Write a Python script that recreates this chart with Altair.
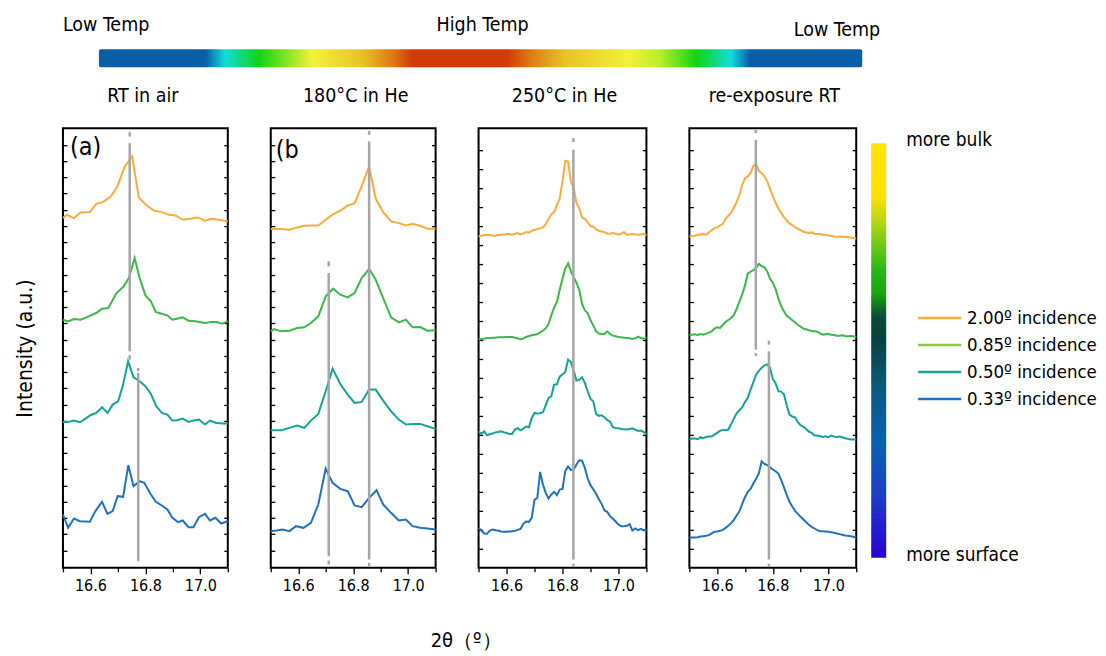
import altair as alt
import pandas as pd

FONT = "DejaVu Sans Condensed, DejaVu Sans"

SERIES = ["2.00º incidence", "0.85º incidence", "0.50º incidence", "0.33º incidence"]
LINE_COLORS = ["#fdab3d", "#3db64a", "#13a397", "#2071be"]
LEGEND_COLORS = ["#fdab3d", "#8cc63f", "#13a397", "#2071be"]
STAGES = ["RT in air", "180°C in He", "250°C in He", "re-exposure RT"]
PANEL_LABELS = ["(a)", "(b"]
XTICKS = [16.5, 16.6, 16.7, 16.8, 16.9, 17.0, 17.1]

# ---------------- panel (a) RT in air ----------------
A_X_O = [16.500, 16.514, 16.540, 16.564, 16.598, 16.621, 16.645, 16.674, 16.698, 16.725, 16.752, 16.776,
         16.802, 16.832, 16.860, 16.886, 16.910, 16.936, 16.963, 16.990, 17.017, 17.040, 17.070, 17.100]
A_Y_O = [1050, 1060, 1050, 1067, 1068, 1093, 1098, 1115, 1145, 1205, 1235, 1112,
         1090, 1072, 1068, 1060, 1058, 1045, 1048, 1052, 1042, 1048, 1045, 1040]
A_X_G = [16.500, 16.519, 16.540, 16.564, 16.594, 16.621, 16.642, 16.665, 16.695, 16.721, 16.740, 16.761, 16.779, 16.800,
         16.820, 16.838, 16.862, 16.880, 16.898, 16.915, 16.936, 16.957, 16.981, 17.017, 17.040, 17.058, 17.080, 17.100]
A_Y_G = [745, 740, 747, 745, 755, 765, 778, 780, 825, 845, 870, 930, 870, 818,
         800, 768, 762, 758, 745, 748, 752, 742, 740, 735, 738, 738, 733, 740]
A_X_T = [16.500, 16.519, 16.540, 16.562, 16.582, 16.600, 16.621, 16.642, 16.662, 16.681, 16.701, 16.719, 16.737, 16.757,
         16.779, 16.800, 16.820, 16.840, 16.860, 16.880, 16.898, 16.915, 16.936, 16.957, 16.975, 16.995, 17.017, 17.035,
         17.058, 17.082, 17.100]
A_Y_T = [438, 438, 442, 437, 448, 458, 465, 482, 465, 490, 500, 550, 620, 572,
         560, 545, 522, 485, 465, 460, 442, 443, 448, 438, 442, 445, 430, 442,
         435, 433, 433]
A_X_B = [16.500, 16.519, 16.540, 16.562, 16.598, 16.618, 16.642, 16.662, 16.681, 16.699, 16.719, 16.738, 16.757, 16.779,
         16.796, 16.820, 16.838, 16.860, 16.880, 16.898, 16.919, 16.936, 16.957, 16.975, 16.995, 17.017, 17.035, 17.055,
         17.076, 17.100]
A_Y_B = [160, 120, 148, 140, 138, 170, 198, 162, 170, 215, 213, 308, 245, 260,
         255, 220, 198, 187, 175, 150, 137, 142, 122, 122, 152, 162, 142, 150,
         133, 140]
A_RULE_X = [16.743, 16.743, 16.743, 16.774, 16.774]
A_RULE_Y = [650, 1295, 625, 20, 590]
A_RULE_Y2 = [1275, 1308, 638, 585, 600]

# ---------------- panel (b) 180 C in He ----------------
B_X_O = [16.500, 16.538, 16.568, 16.596, 16.622, 16.646, 16.673, 16.700, 16.727, 16.753, 16.780, 16.805,
         16.831, 16.858, 16.882, 16.909, 16.938, 16.966, 16.992, 17.016, 17.044, 17.070, 17.100]
B_Y_O = [1017, 1017, 1015, 1022, 1027, 1028, 1028, 1045, 1062, 1072, 1088, 1095,
         1145, 1205, 1108, 1068, 1040, 1035, 1028, 1033, 1027, 1018, 1018]
B_X_G = [16.500, 16.512, 16.538, 16.568, 16.596, 16.622, 16.646, 16.673, 16.700, 16.727, 16.753, 16.780,
         16.805, 16.831, 16.858, 16.882, 16.909, 16.938, 16.966, 16.992, 17.016, 17.044, 17.070, 17.100]
B_Y_G = [710, 717, 710, 712, 720, 722, 735, 755, 815, 838, 820, 812,
         825, 870, 897, 865, 810, 752, 737, 745, 722, 723, 712, 713]
B_X_T = [16.500, 16.538, 16.568, 16.596, 16.622, 16.646, 16.673, 16.700, 16.725, 16.753, 16.780, 16.805,
         16.831, 16.858, 16.882, 16.909, 16.938, 16.966, 16.992, 17.016, 17.044, 17.070, 17.100]
B_Y_T = [413, 413, 420, 427, 420, 442, 462, 530, 598, 552, 520, 495,
         498, 535, 535, 502, 470, 445, 430, 432, 432, 425, 417]
B_X_B = [16.500, 16.520, 16.544, 16.568, 16.592, 16.619, 16.646, 16.673, 16.700, 16.725, 16.753, 16.780,
         16.805, 16.831, 16.858, 16.885, 16.909, 16.938, 16.966, 16.992, 17.016, 17.044, 17.070, 17.100]
B_Y_B = [110, 112, 115, 110, 125, 120, 135, 190, 298, 255, 237, 230,
         187, 182, 210, 233, 190, 165, 142, 145, 125, 120, 118, 115]
B_RULE_X = [16.858, 16.858, 16.858, 16.711, 16.711, 16.711]
B_RULE_Y = [25, 1300, 5, 35, 905, 10]
B_RULE_Y2 = [1280, 1312, 15, 885, 920, 22]

# ---------------- panels (c) and (d): common 2-theta grid ----------------
X_CD = [16.50, 16.51, 16.52, 16.53, 16.54, 16.55, 16.56, 16.57, 16.58, 16.59,
        16.60, 16.61, 16.62, 16.63, 16.64, 16.65, 16.66, 16.67, 16.68, 16.69,
        16.70, 16.71, 16.72, 16.73, 16.74, 16.75, 16.76, 16.77, 16.78, 16.79,
        16.80, 16.81, 16.82, 16.83, 16.84, 16.85, 16.86, 16.87, 16.88, 16.89,
        16.90, 16.91, 16.92, 16.93, 16.94, 16.95, 16.96, 16.97, 16.98, 16.99,
        17.00, 17.01, 17.02, 17.03, 17.04, 17.05, 17.06, 17.07, 17.08, 17.09, 17.10]

C_Y_O = [995, 997, 999, 1000, 999, 997, 997, 999, 1000, 1001,
         1002, 1002, 1000, 1003, 1005, 1001, 1004, 1008, 1006, 1012,
         1015, 1017, 1020, 1022, 1032, 1048, 1062, 1068, 1090, 1108,
         1162, 1222, 1220, 1160, 1140, 1095, 1080, 1052, 1047, 1038,
         1026, 1025, 1016, 1012, 1010, 1008, 1004, 1003, 1005, 1003,
         1000, 1003, 1008, 1000, 1001, 1002, 1001, 1000, 1001, 1002, 998]
C_Y_G = [685, 687, 688, 690, 690, 691, 691, 692, 692, 692,
         693, 693, 693, 691, 689, 686, 688, 693, 696, 698,
         700, 702, 707, 712, 719, 732, 758, 781, 798, 835,
         868, 898, 914, 890, 872, 856, 834, 792, 773, 765,
         743, 728, 710, 703, 702, 702, 710, 702, 697, 695,
         693, 692, 691, 690, 689, 687, 689, 694, 690, 688, 690]
C_Y_T = [410, 402, 410, 398, 401, 403, 406, 408, 410, 407,
         405, 402, 402, 415, 419, 413, 418, 424, 422, 450,
         465, 463, 464, 467, 488, 510, 515, 550, 551, 574,
         581, 588, 625, 618, 592, 562, 564, 572, 555, 530,
         507, 500, 462, 456, 458, 452, 444, 439, 422, 420,
         419, 417, 416, 415, 417, 419, 415, 411, 412, 408, 400]
C_Y_B = [120, 112, 103, 102, 112, 115, 113, 112, 109, 108,
         108, 109, 110, 111, 114, 117, 132, 139, 138, 150,
         204, 210, 288, 250, 225, 208, 220, 228, 218, 235,
         237, 290, 304, 294, 295, 310, 323, 322, 300, 268,
         248, 236, 222, 206, 192, 172, 168, 155, 147, 139,
         130, 125, 125, 126, 131, 112, 118, 113, 117, 112, 115]
C_RULE_X = [16.839, 16.839, 16.839]
C_RULE_Y = [25, 1278, 2]
C_RULE_Y2 = [1255, 1290, 12]

D_Y_O = [995, 996, 997, 999, 1001, 1002, 1000, 1007, 1014, 1020,
         1022, 1028, 1032, 1048, 1057, 1066, 1082, 1098, 1120, 1150,
         1170, 1175, 1185, 1207, 1213, 1191, 1185, 1175, 1160, 1138,
         1116, 1096, 1079, 1065, 1053, 1043, 1034, 1029, 1022, 1018,
         1014, 1009, 1007, 1005, 1007, 1003, 1002, 1002, 1000, 1000,
         998, 997, 995, 994, 995, 994, 993, 993, 992, 990, 989]
D_Y_G = [698, 700, 701, 699, 702, 700, 703, 706, 710, 718,
         722, 720, 729, 738, 744, 750, 759, 777, 799, 821,
         848, 883, 889, 894, 900, 913, 906, 902, 890, 868,
         856, 837, 809, 786, 770, 757, 751, 743, 737, 729,
         724, 718, 716, 713, 711, 710, 709, 704, 700, 701,
         702, 700, 699, 697, 697, 698, 696, 695, 696, 695, 693]
D_Y_T = [385, 388, 388, 386, 392, 389, 393, 394, 394, 400,
         405, 411, 414, 413, 415, 431, 448, 464, 473, 482,
         498, 510, 535, 557, 580, 591, 601, 608, 611, 601,
         567, 554, 530, 529, 521, 488, 460, 454, 452, 437,
         428, 423, 417, 409, 405, 397, 397, 395, 393, 395,
         392, 397, 394, 393, 394, 392, 389, 387, 385, 385, 385]
D_Y_B = [90, 91, 91, 92, 94, 95, 96, 98, 103, 108,
         109, 111, 114, 120, 126, 134, 144, 157, 170, 192,
         212, 228, 237, 253, 267, 284, 320, 312, 308, 302,
         295, 290, 283, 264, 242, 219, 198, 184, 171, 162,
         153, 145, 137, 129, 123, 118, 113, 110, 110, 109,
         108, 107, 105, 103, 101, 99, 97, 96, 95, 93, 90]
D_RULE_X = [16.739, 16.739, 16.739, 16.786, 16.786, 16.786]
D_RULE_Y = [655, 1305, 635, 25, 670, 2]
D_RULE_Y2 = [1285, 1315, 645, 650, 682, 12]

HEADER_STOPS = [(0.0, "#0a5ea8"), (0.14, "#0a5ea8"), (0.165, "#12dcdc"), (0.21, "#12d412"),
                (0.28, "#f2f23a"), (0.345, "#e8c228"), (0.385, "#dd7a14"), (0.41, "#d13c05"),
                (0.535, "#d13c05"), (0.565, "#dd7a14"), (0.61, "#e8c228"), (0.695, "#f2f23a"),
                (0.735, "#b8ee2a"), (0.783, "#12d412"), (0.828, "#12dcdc"), (0.853, "#0a5ea8"),
                (1.0, "#0a5ea8")]
BAR_STOPS = [(0.0, "#ffe400"), (0.13, "#fde000"), (0.2, "#a8d414"), (0.31, "#22b814"),
             (0.36, "#1aa80f"), (0.42, "#0c4a3a"), (0.47, "#064240"), (0.58, "#0a5878"),
             (0.72, "#0a62b0"), (0.85, "#1d3dc8"), (1.0, "#2a00d8")]

ONE = pd.DataFrame({"k": [0]})
LBL = "round(datum.value*10) % 2 == 0 ? format(datum.value, '.1f') : ''"


def text_mark(txt, x, y, size, align="left"):
    return alt.Chart(ONE).mark_text(text=txt, align=align, baseline="middle", fontSize=size,
                                    font=FONT, color="black").encode(x=alt.value(x), y=alt.value(y))


def gradient(stops, vertical):
    return alt.LinearGradient(gradient="linear",
                              stops=[alt.GradientStop(offset=o, color=c) for o, c in stops],
                              x1=0, y1=0, x2=0 if vertical else 1, y2=1 if vertical else 0)


def panel(curves, rx, ry, ry2, width, yticks, extras=(), ytitle=None, xtitle=None):
    rows = []
    for name, (xs, ys) in zip(SERIES, curves):
        rows += [{"x": a, "y": b, "s": name} for a, b in zip(xs, ys)]
    df = pd.DataFrame(rows)
    rdf = pd.DataFrame({"x": rx, "y": ry, "y2": ry2})

    xax = dict(values=XTICKS, labelExpr=LBL,
               tickSize={"condition": {"test": "round(datum.value*10) % 2 == 0", "value": 6}, "value": 4},
               tickWidth=1.3, tickColor="black", domain=False, grid=False,
               labelFontSize=16, labelPadding=4, labelFont=FONT, labelColor="black", title="")
    if xtitle:
        xax.update(title=xtitle, titleX=195, titleY=73, titleBaseline="middle", titleAlign="center",
                   titleFontSize=20, titleFontWeight="normal", titleFont=FONT, titleColor="black")
    x = alt.X("x:Q", scale=alt.Scale(domain=[16.5, 17.1], nice=False, zero=False), axis=alt.Axis(**xax))
    yscale = alt.Scale(domain=[0, 1320], nice=False, zero=False)
    lax = dict(orient="left", values=yticks, labels=False, domain=False, tickSize=4, offset=-4,
               tickColor="black", tickWidth=1.3, grid=False, title="")
    if ytitle:
        lax.update(title=ytitle, titleX=-41, titleBaseline="middle", titleFontSize=21,
                   titleFontWeight="normal", titleAngle=270, titleFont=FONT, titleColor="black")
    rax = dict(orient="right", values=yticks, labels=False, domain=False, tickSize=4, offset=-4,
               tickColor="black", tickWidth=1.3, grid=False, title="")

    lines = alt.Chart(df).mark_line(strokeWidth=2).encode(
        x=x,
        y=alt.Y("y:Q", scale=yscale, axis=alt.Axis(**lax)),
        color=alt.Color("s:N", scale=alt.Scale(domain=SERIES, range=LINE_COLORS), legend=None),
    )
    rules = alt.Chart(rdf).mark_rule(color="#a6a6a6", strokeWidth=2.5).encode(
        x=x,
        y=alt.Y("y:Q", scale=yscale, axis=alt.Axis(**rax)),
        y2="y2:Q",
    )
    return alt.layer(lines, rules, *extras).resolve_axis(y="independent").properties(width=width, height=440)


YT_AB = [52 + 48.72 * k for k in range(26)]
YT_CD = [58 + 57.0 * k for k in range(22)]

pA = panel([(A_X_O, A_Y_O), (A_X_G, A_Y_G), (A_X_T, A_Y_T), (A_X_B, A_Y_B)],
           A_RULE_X, A_RULE_Y, A_RULE_Y2, 165, YT_AB,
           extras=[text_mark(PANEL_LABELS[0], 7, 19, 25)], ytitle="Intensity (a.u.)")
pB = panel([(B_X_O, B_Y_O), (B_X_G, B_Y_G), (B_X_T, B_Y_T), (B_X_B, B_Y_B)],
           B_RULE_X, B_RULE_Y, B_RULE_Y2, 165, YT_AB,
           extras=[text_mark(PANEL_LABELS[1], 5, 22, 25)], xtitle="2θ（º）")
pC = panel([(X_CD, C_Y_O), (X_CD, C_Y_G), (X_CD, C_Y_T), (X_CD, C_Y_B)],
           C_RULE_X, C_RULE_Y, C_RULE_Y2, 168, YT_CD)

colorbar = alt.Chart(ONE).mark_rect(color=gradient(BAR_STOPS, True)).encode(
    x=alt.value(182), x2=alt.value(197), y=alt.value(15), y2=alt.value(430))
d_extras = [colorbar, text_mark("more bulk", 217, 12, 19), text_mark("more surface", 217, 427, 19)]
for i, (name, col) in enumerate(zip(SERIES, LEGEND_COLORS)):
    yy = 190 + 27 * i
    d_extras.append(alt.Chart(ONE).mark_rule(color=col, strokeWidth=2.5).encode(
        x=alt.value(229), x2=alt.value(272), y=alt.value(yy)))
    d_extras.append(text_mark(name, 278, yy, 18.5))

pD = panel([(X_CD, D_Y_O), (X_CD, D_Y_G), (X_CD, D_Y_T), (X_CD, D_Y_B)],
           D_RULE_X, D_RULE_Y, D_RULE_Y2, 167, YT_CD, extras=d_extras)

# ---------------- header: temperature gradient ----------------
hbar = alt.Chart(ONE).mark_rect(color=gradient(HEADER_STOPS, False), cornerRadius=2).encode(
    x=alt.value(36), x2=alt.value(800), y=alt.value(39), y2=alt.value(57))
header_layers = [hbar,
                 text_mark("Low Temp", 0, 15, 19.5),
                 text_mark("High Temp", 420, 15, 19.5, "center"),
                 text_mark("Low Temp", 818, 20, 19.5, "right")]
for stage, cx in zip(STAGES, [80, 293, 502, 712]):
    header_layers.append(text_mark(stage, cx, 86, 19.5, "center"))
header = alt.layer(*header_layers).properties(width=820, height=100,
                                               view=alt.ViewBackground(strokeOpacity=0))

body = alt.hconcat(pA, pB, pC, pD, spacing=43, bounds="flush")
chart = alt.vconcat(header, body, spacing=18, bounds="flush").properties(
    padding={"left": 6, "top": 2, "right": 0, "bottom": 0}
).configure_view(stroke="black", strokeWidth=2).configure_axis(
    labelFont=FONT, titleFont=FONT, labelColor="black", titleColor="black"
)

chart.save("out.html", embed_options={"renderer": "svg", "actions": False})
